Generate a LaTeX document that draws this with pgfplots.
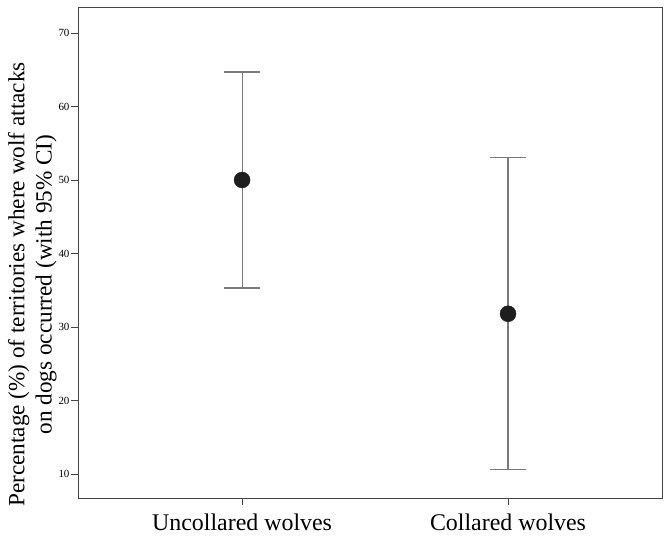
\documentclass[border=0pt]{standalone}
\usepackage{fontspec}
\setmainfont{Liberation Serif}
\usepackage{pgfplots}
\pgfplotsset{compat=1.18}
\definecolor{axisgray}{HTML}{444444}
\definecolor{bargray}{HTML}{7A7A7A}
\definecolor{dotblack}{HTML}{1E1E1E}
\begin{document}
\begin{tikzpicture}
  \begin{axis}[
    at={(0,0)}, anchor=south west,
    scale only axis,
    width=584bp,
    height=491bp,
    xmin=-0.617, xmax=1.579,
    ymin=6.73, ymax=73.54,
    xtick={0,1},
    xticklabels={Uncollared wolves, Collared wolves},
    ytick={10,20,30,40,50,60,70},
    tick align=outside,
    tick pos=left,
    major tick length=7bp,
    tick style={axisgray, line width=0.9bp},
    axis line style={axisgray, line width=0.9bp},
    xticklabel style={font=\fontsize{24}{28}\selectfont, yshift=-5bp},
    yticklabel style={font=\fontsize{11}{12}\selectfont, xshift=2bp},
    /pgf/number format/assume math mode=true,
    ylabel={Percentage (\%) of territories where wolf attacks\\on dogs occurred (with 95\% CI)},
    ylabel style={align=center, font=\fontsize{23.3}{27.5}\selectfont, yshift=-5bp, xshift=-32bp},
    clip=false,
  ]
  \addplot[
    only marks,
    mark=*,
    mark size=8bp,
    mark options={fill=dotblack, draw=dotblack},
    error bars/.cd,
      y dir=both, y explicit,
      error bar style={bargray, line width=1.1bp},
      error mark=|,
      error mark options={bargray, line width=1.1bp, mark size=18bp},
  ] coordinates {
    (0,50.0) += (0,14.7) -= (0,14.7)
    (1,31.8) += (0,21.3) -= (0,21.2)
  };
  \end{axis}
  \pgfresetboundingbox
  \path[use as bounding box] (-78bp,-40bp) rectangle (587bp,498bp);
\end{tikzpicture}
\end{document}
